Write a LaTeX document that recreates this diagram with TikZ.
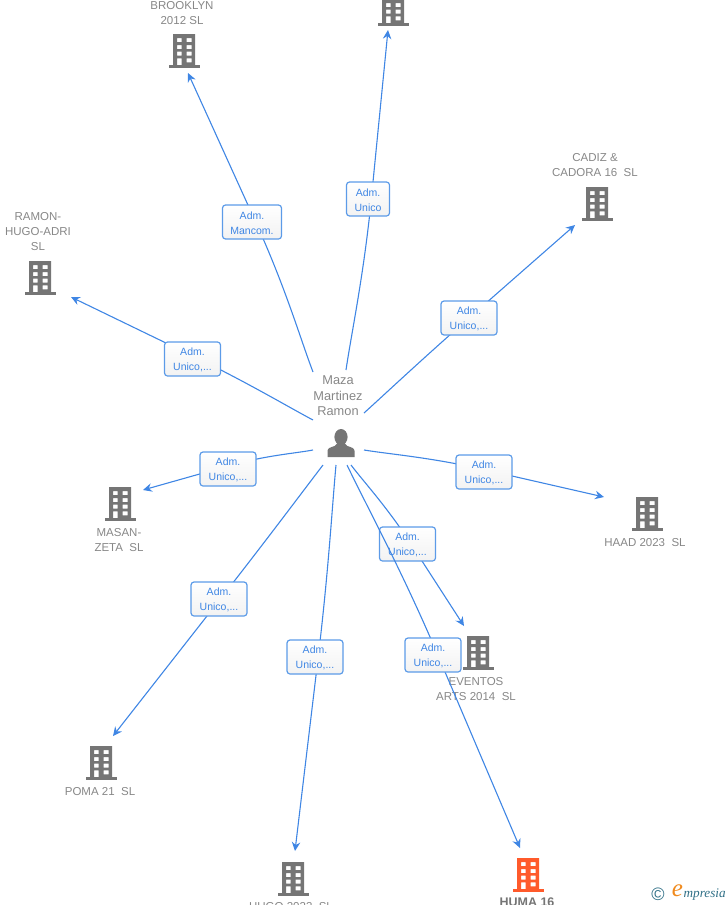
\documentclass[tikz,border=0pt]{standalone}
\usepackage{fontspec}
\setmainfont{Liberation Sans}
\newfontfamily\logofont{Liberation Serif}
\usetikzlibrary{arrows.meta,calc}
\pgfdeclarelayer{linksback}
\pgfdeclarelayer{linksfront}
\pgfdeclarelayer{boxesfront}
\pgfsetlayers{linksback,main,linksfront,boxesfront}
\definecolor{linkblue}{HTML}{3F86E4}
\definecolor{boxblue}{HTML}{5C9BE8}
\definecolor{iconGrey}{HTML}{757575}
\definecolor{nameGrey}{HTML}{878787}
\definecolor{hotOrange}{HTML}{FF5A2B}
\definecolor{logoTeal}{HTML}{2F6F86}
\definecolor{logoOrange}{HTML}{F08A1D}
\newcommand{\bldgshape}[1]{%
  \fill[#1,even odd rule,shift={(path picture bounding box.center)}]
    (-11,-16) rectangle (11,15)
    (-7,-12) rectangle (-2.3,-7.8) (2.7,-12) rectangle (7.7,-7.8)
    (-7,-5) rectangle (-2.3,-1) (2.7,-5) rectangle (7.7,-1)
    (-7,1.7) rectangle (-2.3,5.7) (2.7,1.7) rectangle (7.7,5.7)
    (-7,8.3) rectangle (-2.3,15) (2.7,8.3) rectangle (7.7,12.3);
  \fill[#1,shift={(path picture bounding box.center)}] (-15.5,15) rectangle (16,17.5);
}
\tikzset{
  x=1pt,y=-1pt,
  bldg/.style={minimum width=34pt,minimum height=38pt,inner sep=0pt,path picture={\bldgshape{#1}}},
  bldg/.default=iconGrey,
  personicon/.style={minimum width=32pt,minimum height=32pt,inner sep=0pt,path picture={
    \fill[iconGrey,shift={(path picture bounding box.center)}]
      (0.5,-6) ellipse (6.6 and 8)
      (-13,14) -- (-13,8) .. controls (-13,5) and (-10,4.5) .. (-6,3) -- (-3,0) -- (4,0) -- (7,3)
      .. controls (11,4.5) and (14,5) .. (14,8) -- (14,14) -- cycle;}},
  bname/.style={text=nameGrey,align=center,inner sep=0pt,font=\fontsize{11.5}{15}\selectfont},
  linkbox/.style={draw=boxblue,line width=1.2pt,rounded corners=3pt,top color=white,bottom color=white!95!black,
    minimum width=56pt,minimum height=34pt,inner sep=0pt,text=linkblue,align=center,
    font=\fontsize{10.5}{15}\selectfont},
  linkarrow/.style={draw=linkblue,line width=1.1pt,-{Stealth[length=9pt,width=8.5pt,inset=3pt]}},
}
% #1 start, #2 label node, #3 where the line crosses the label, #4 end
\newcommand{\linkcurve}[4]{%
  \coordinate (via) at ($(#2.center)+(#3)$);
  \draw[linkarrow] (#1) .. controls ($(#1)!0.22!(via)$) and ($(via)!-0.45!(#4)$) .. (via) -- (#4);
}
\newcommand{\admtwo}[1]{\rule{0pt}{9.5pt}Adm.\hspace{5pt}\\#1}
\begin{document}
\begin{tikzpicture}
\useasboundingbox (0,0) rectangle (728,905);
\begin{scope}
\clip (0,0) rectangle (728,905);
% person
\node[personicon] (p) at (340.5,443) {};
\node[bname,font=\fontsize{12.8}{15.5}\selectfont] (pn) at (338,396) {Maza\\Martinez\\Ramon};
% buildings
\node[bldg] (b1) at (184,50) {};
\node[bname] (n1) at (182,13) {BROOKLYN\\2012 SL};
\node[bldg] (b2) at (393,8) {};
\node[bldg] (b3) at (597,203) {};
\node[bname] (n3) at (595,165) {CADIZ \&\\CADORA 16\ \ SL};
\node[bldg] (b4) at (40,277) {};
\node[bname] (n4) at (38,232) {RAMON-\\HUGO-ADRI\\SL};
\node[bldg] (b5) at (120,503) {};
\node[bname] (n5) at (119,540) {MASAN-\\ZETA\ \ SL};
\node[bldg] (b6) at (647,513) {};
\node[bname] (n6) at (645,542.5) {HAAD 2023\ \ SL};
\node[bldg] (b7) at (478,652) {};
\node[bname] (n7) at (476,689) {EVENTOS\\ARTS 2014\ \ SL};
\node[bldg] (b10) at (101,762) {};
\node[bname] (n10) at (100,791.5) {POMA 21\ \ SL};
\node[bldg] (b9) at (293,878) {};
\node[bname] (n9) at (291,907) {HUGO 2023\ \ SL};
\node[bldg=hotOrange] (b8) at (528,874) {};
\node[bname,text=iconGrey,font=\fontsize{12.5}{15}\selectfont\bfseries] (n8) at (527,902.5) {HUMA 16};
\end{scope}
% connector ends
\coordinate (s1) at ($(p)+(-27.5,-71)$);   \coordinate (e1) at ($(b1)+(4,23)$);
\coordinate (s2) at ($(p)+(5.5,-73)$);     \coordinate (e2) at ($(b2)+(-5,22)$);
\coordinate (s3) at ($(p)+(23.5,-30)$);    \coordinate (e3) at ($(b3)+(-22,22)$);
\coordinate (s4) at ($(p)+(-27.5,-23)$);   \coordinate (e4) at ($(b4)+(31,20)$);
\coordinate (s5) at ($(p)+(-27.5,7)$);     \coordinate (e5) at ($(b5)+(23,-13)$);
\coordinate (s6) at ($(p)+(23.5,7)$);      \coordinate (e6) at ($(b6)+(-43,-16)$);
\coordinate (s7) at ($(p)+(10.5,22)$);     \coordinate (e7) at ($(b7)+(-14,-26)$);
\coordinate (s8) at ($(p)+(6.5,22)$);      \coordinate (e8) at ($(b8)+(-8,-26)$);
\coordinate (s9) at ($(p)+(-4.5,22)$);     \coordinate (e9) at ($(b9)+(2,-27)$);
\coordinate (s10) at ($(p)+(-17.5,22)$);   \coordinate (e10) at ($(b10)+(12,-26)$);
% label boxes
\node[linkbox,minimum width=59pt] (l1) at (252,222) {\admtwo{Mancom.}};
\node[linkbox,minimum width=43pt] (l2) at (368,199) {\admtwo{Unico}};
\node[linkbox] (l3) at (469,318) {\admtwo{Unico,...}};
\node[linkbox] (l4) at (192.5,359) {\admtwo{Unico,...}};
\node[linkbox] (l5) at (228,469) {\admtwo{Unico,...}};
\node[linkbox] (l6) at (484,472) {\admtwo{Unico,...}};
\node[linkbox] (l7) at (407.5,544) {\admtwo{Unico,...}};
\node[linkbox] (l9) at (315,657) {\admtwo{Unico,...}};
\node[linkbox] (l10) at (219,599) {\admtwo{Unico,...}};
\begin{pgfonlayer}{boxesfront}
\node[linkbox] (l8) at (433,655) {\admtwo{Unico,...}};
\end{pgfonlayer}
% connectors
\begin{pgfonlayer}{linksback}
\linkcurve{s1}{l1}{3.7,0}{e1}
\linkcurve{s2}{l2}{3.3,0}{e2}
\linkcurve{s3}{l3}{0,0}{e3}
\linkcurve{s4}{l4}{-0.5,-3.4}{e4}
\linkcurve{s5}{l5}{0,-3}{e5}
\linkcurve{s6}{l6}{0,-2.4}{e6}
\linkcurve{s7}{l7}{3.5,0}{e7}
\linkcurve{s9}{l9}{3.2,0}{e9}
\linkcurve{s10}{l10}{1.3,0}{e10}
\end{pgfonlayer}
\begin{pgfonlayer}{linksfront}
\linkcurve{s8}{l8}{4.8,0}{e8}
\end{pgfonlayer}
% logo
\node[text=logoTeal,inner sep=0pt,font=\fontsize{18}{18}\selectfont] (lc) at (658,894) {©};
\node[text=logoOrange,inner sep=0pt,font=\logofont\itshape\fontsize{25}{25}\selectfont] (le) at (677.5,891) {e};
\node[text=logoTeal,inner sep=0pt,anchor=west,font=\logofont\itshape\fontsize{13.2}{14}\selectfont] (lm) at (683.5,895) {mpresia};
\end{tikzpicture}
\end{document}
